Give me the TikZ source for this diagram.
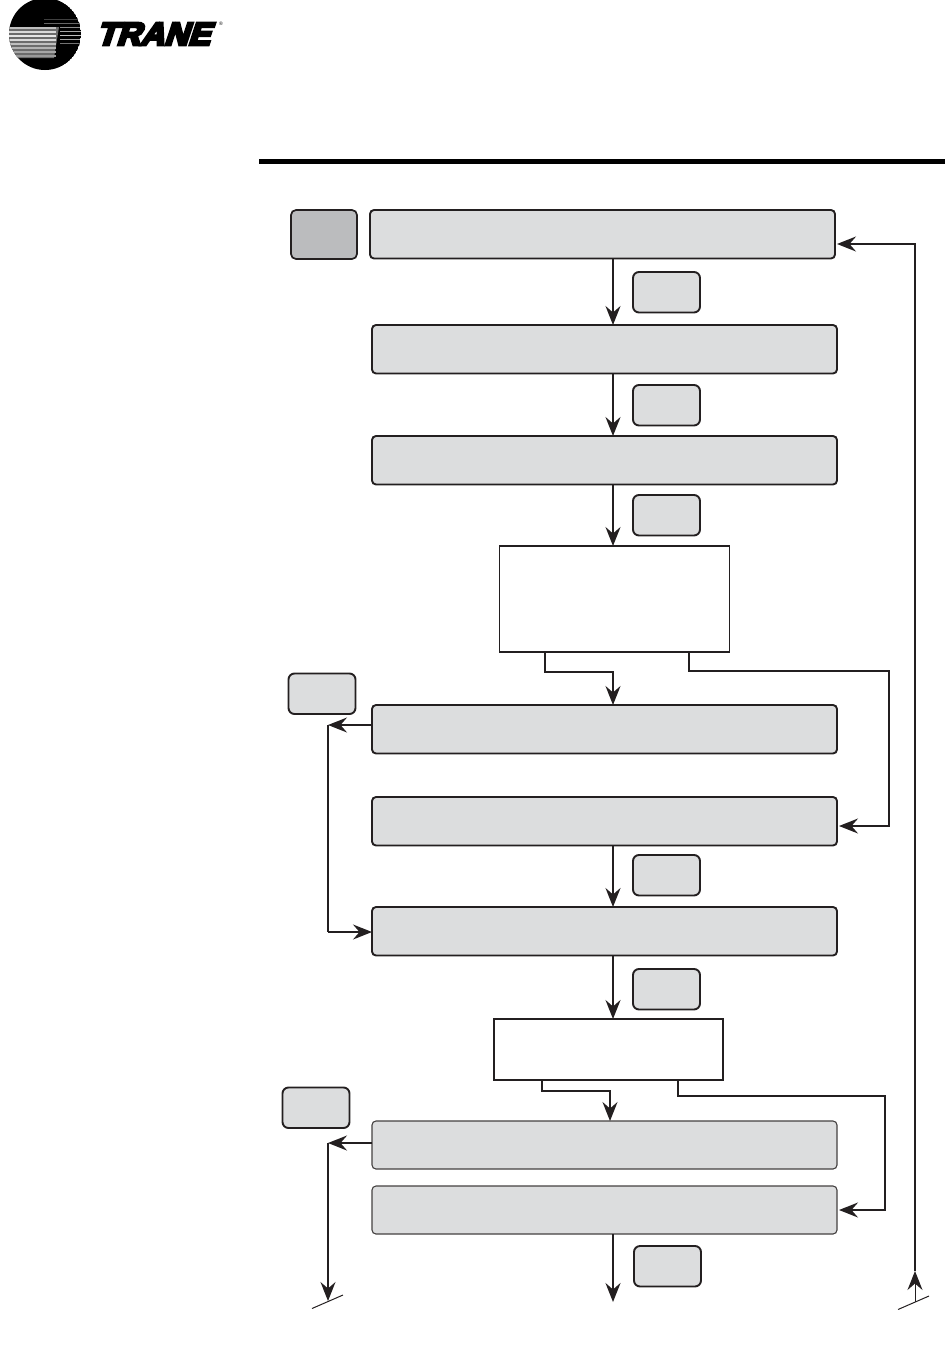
\documentclass[tikz,border=0pt]{standalone}
\usepackage{fontspec}
\setmainfont{Liberation Sans}
\newfontfamily\logofont{Liberation Sans}[BoldFeatures={FakeBold=9}]
\usetikzlibrary{arrows.meta}
\definecolor{boxgray}{HTML}{DCDDDE}
\definecolor{darkgray}{HTML}{BBBCBE}
\definecolor{ink}{HTML}{231F20}
\tikzset{
  x=1pt,y=-1pt,
  base/.style={anchor=north west,inner sep=0pt,outer sep=0pt,draw=ink},
  wide/.style={base,fill=boxgray,rounded corners=4pt,line width=1.9pt,minimum width=465pt,minimum height=48.5pt},
  widethin/.style={base,fill=boxgray,rounded corners=4pt,line width=1.1pt,draw=ink!85,minimum width=465pt,minimum height=48pt},
  small/.style={base,fill=boxgray,rounded corners=6pt,line width=1.9pt,minimum width=67pt,minimum height=40.5pt},
  dark/.style={base,fill=darkgray,rounded corners=5pt,line width=1.7pt,minimum width=66pt,minimum height=49pt},
  decision/.style={base,fill=white,line width=1.6pt,minimum width=230pt},
  tip/.style={-{Stealth[length=19pt,width=15pt,inset=6.5pt]}},
  arr/.style={tip,draw=ink,line width=1.9pt},
  arrthin/.style={tip,draw=ink,line width=1.2pt},
  plain/.style={draw=ink,line width=1.2pt},
  tick/.style={draw=ink,line width=1pt}
}
\begin{document}
\begin{tikzpicture}
\useasboundingbox (0,0) rectangle (950,1366);
% logo
\begin{scope}
\clip (45,34) circle[radius=36];
\fill[black] (45,34) circle[radius=36];
\fill[white!42!black] (9,27) -- (59,27) -- (54,58) -- (9,58) -- cycle;
\foreach \y/\w/\g in {28/1.6/75,32/1.6/85,36/1.8/90,40/1.6/85,44/1.4/75,48/1.4/70,52/1.4/65,56/1.2/60}
  \draw[white!\g!black,line width=\w pt] (9,\y) -- (56,\y);
\foreach \y/\w/\g in {19.5/1.2/25,23.5/1.3/40}
  \draw[white!\g!black,line width=\w pt] (44,\y) -- (81,\y);
\foreach \y/\w/\g in {27.5/1.3/55,31.5/1.3/65,35.5/1.4/75,39.5/1.4/65,43.5/1.3/45}
  \draw[white!\g!black,line width=\w pt] (60,\y) -- (81,\y);
\end{scope}
\node[anchor=center,inner sep=0pt,xscale=1.03,xslant=0.32] (trane) at (156.5,34) {\logofont\bfseries\fontsize{32}{32}\selectfont TRANE};
\node[inner sep=0pt] (reg) at (221,24) {\fontsize{5}{5}\selectfont ®};
% rule
\fill[black] (259,158.5) rectangle (945,163.5);
% boxes
\node[dark] (start) at (291,210) {};
\node[wide] (b0) at (370,210) {};
\node[wide] (b1) at (372,325) {};
\node[wide] (b2) at (372,436) {};
\node[decision,minimum height=106pt] (w1) at (499.5,546) {};
\node[wide] (b3) at (372,705) {};
\node[wide] (b4) at (372,797) {};
\node[wide] (b5) at (372,907) {};
\node[decision,minimum width=229pt,minimum height=61pt] (w2) at (494,1019) {};
\node[widethin] (b6) at (372,1121) {};
\node[widethin] (b7) at (372,1186) {};
% small boxes
\node[small] (s1) at (633,272) {};
\node[small] (s2) at (633,385) {};
\node[small] (s3) at (633,495) {};
\node[small] (s4) at (288.5,673.5) {};
\node[small] (s5) at (633,855) {};
\node[small] (s6) at (633,969) {};
\node[small] (s7) at (282.5,1087.5) {};
\node[small] (s8) at (634,1246) {};
% guide coordinates
\coordinate (mx) at (613,0);
\coordinate (lx) at (328,0);
\coordinate (rx) at (915,0);
\coordinate (w1a) at (545,0);
\coordinate (w1b) at (689,0);
\coordinate (w2a) at (542,0);
\coordinate (w2b) at (678,0);
\coordinate (w2m) at (610,0);
\coordinate (endmid) at (613,1302);
\coordinate (endleft) at (328,1301);
\coordinate (endright) at (915,1302);
\coordinate (rtip) at (915,1271);
% vertical flow
\draw[arr] (mx |- b0.south) -- (mx |- b1.north);
\draw[arr] (mx |- b1.south) -- (mx |- b2.north);
\draw[arr] (mx |- b2.south) -- (mx |- w1.north);
\draw[arr] (mx |- b4.south) -- (mx |- b5.north);
\draw[arr] (mx |- b5.south) -- (mx |- w2.north);
\draw[arr] (mx |- b7.south) -- (endmid);
% first decision
\draw[arr,line width=1.6pt] (w1a |- w1.south) |- (613,672) -- (mx |- b3.north);
\draw[arrthin,line width=1.5pt] (w1b |- w1.south) |- (889,671) |- ([xshift=2pt]b4.east |- 0,826);
\draw[arrthin] (b3.west |- 0,725) -- (lx |- 0,725);
\draw[plain] (lx |- 0,725) -- (lx |- 0,932);
\draw[arr,line width=1.5pt] (lx |- 0,932) -- (b5.west |- 0,932);
% second decision
\draw[arr,line width=1.6pt] (w2a |- w2.south) |- (610,1091) -- (w2m |- b6.north);
\draw[arr,line width=1.6pt] (w2b |- w2.south) |- (885,1096) |- ([xshift=2pt]b7.east);
\draw[arr] (b6.west |- 0,1143) -- (lx |- 0,1143);
\draw[arrthin] (lx |- 0,1143) -- (endleft);
% return
\draw[tick] (312,1308.5) -- (343,1295);
\draw[tick] (898,1309.5) -- (929,1296);
\draw[arrthin,line width=1pt] (endright) -- (rtip);
\draw[arrthin,line width=1.7pt] (rtip) |- ([xshift=2pt]b0.east |- 0,244);
\end{tikzpicture}
\end{document}
